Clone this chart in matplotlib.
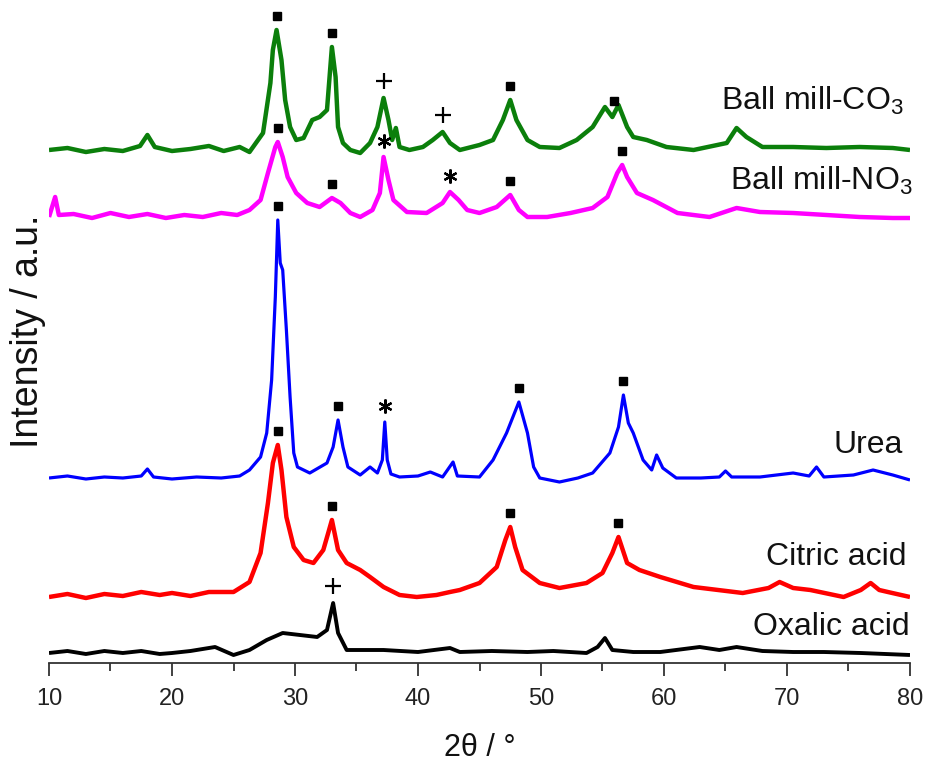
import matplotlib
matplotlib.use("Agg")
import matplotlib.pyplot as plt
import numpy as np

plt.rcParams['font.family'] = ['Liberation Sans', 'DejaVu Sans']
plt.rcParams['mathtext.fontset'] = 'custom'
plt.rcParams['mathtext.rm'] = 'Liberation Sans'

# ---------------- data (2theta in degrees, intensity a.u. above own baseline) ----------------
x_co3 = [10.0, 11.5, 13, 14.5, 16, 17.4, 18.0, 18.6, 20, 21.5, 23, 24.2, 25.5, 26.3, 27.4, 28.0, 28.2, 28.5,
         28.9, 29.2, 29.6, 30.1, 30.7, 31.4, 32.0, 32.6, 33.0, 33.3, 33.5, 33.9, 34.5, 35.3, 36.1, 36.7, 37.2,
         37.6, 37.9, 38.2, 38.5, 39.3, 40.4, 41.2, 42.0, 42.6, 43.4, 45.0, 46.1, 46.9, 47.5, 48.0, 48.9, 49.9,
         51.5, 52.9, 54.2, 55.2, 55.8, 56.3, 57.0, 57.5, 58.6, 60.2, 62.4, 65.1, 65.9, 66.7, 68.0, 70.5, 73.2,
         75.9, 78.6, 80]
y_co3 = [0, 2, -2, 1, -1, 4, 15, 3, -1, 1, 4, -1, 3, -2, 17, 67, 100, 120,
         90, 50, 23, 10, 12, 30, 33, 40, 103, 73, 23, 7, 0, -3, 7, 23, 52,
         30, 10, 22, 3, 0, 3, 10, 18, 7, 0, 5, 10, 30, 50, 30, 10, 3,
         2, 10, 23, 43, 33, 45, 23, 13, 10, 3, 0, 7, 22, 13, 3, 3, 2,
         3, 2, 0]

x_no3 = [10.0, 10.5, 10.8, 12, 13.5, 15, 16.5, 18, 19.5, 21, 22.5, 24, 25.3, 26.3, 27.2, 27.8, 28.4, 28.6,
         29.0, 29.4, 30.1, 31.0, 32.0, 33.0, 33.7, 34.5, 35.3, 36.3, 36.9, 37.2, 37.6, 38.0, 39.1, 40.7, 42.0,
         42.6, 43.3, 44.0, 45.0, 46.4, 47.5, 48.2, 48.9, 50.5, 52.4, 54.2, 55.4, 56.2, 56.6, 57.0, 57.8, 59.1,
         61.1, 63.7, 65.9, 67.8, 70.5, 73.2, 75.9, 78.6, 80]
y_no3 = [0, 20, 2, 3, -1, 4, 0, 3, -1, 2, 0, 4, 2, 7, 17, 44, 70, 75,
         60, 40, 24, 14, 10, 19, 14, 4, 0, 7, 24, 60, 37, 17, 5, 4, 14,
         25, 17, 7, 4, 10, 22, 7, 0, 0, 4, 9, 20, 44, 52, 40, 24, 17,
         4, 0, 9, 5, 4, 2, 0, -1, -1]

x_urea = [10, 11.5, 13, 14.5, 16, 17.5, 18.0, 18.5, 20, 22, 24, 25.5, 26.3, 27.2, 27.7, 28.1, 28.4, 28.6,
          28.8, 29.0, 29.3, 29.6, 29.9, 30.2, 31.2, 32.6, 33.1, 33.5, 33.9, 34.3, 35.3, 36.1, 36.7, 37.1,
          37.3, 37.5, 37.8, 38.5, 40.0, 41.0, 42.0, 42.85, 43.2, 45.0, 46.1, 47.2, 48.2, 48.9, 49.4, 49.9,
          51.5, 53, 54.2, 55.6, 56.3, 56.7, 57.1, 57.5, 58.3, 59.0, 59.4, 59.9, 61.0, 63, 64.5, 65.0, 65.5,
          67.8, 70.5, 71.8, 72.4, 73.0, 75.4, 77.0, 78.6, 80]
y_urea = [0, 2, -1, 1, 0, 2, 9, 1, -1, 1, 0, 2, 8, 21, 45, 98, 181, 258,
          215, 208, 148, 81, 25, 11, 5, 15, 31, 58, 31, 11, 3, 11, 5, 18,
          56, 18, 4, 1, 2, 6, 1, 16, 2, 1, 18, 45, 76, 45, 11, 0,
          -4, 0, 5, 25, 51, 83, 55, 45, 18, 8, 23, 10, 0, 0, 1, 7, 1,
          1, 5, 2, 11, 1, 3, 8, 3, -2]

x_cit = [10, 11.5, 13, 14.5, 16, 17.5, 19, 20, 21.5, 23, 25, 26.3, 27.2, 27.8, 28.2, 28.6, 28.9, 29.3, 29.9,
         30.7, 31.5, 32.3, 32.7, 33.0, 33.5, 34.2, 35.3, 36.1, 37.2, 38.5, 39.9, 41.5, 42.6, 43.4, 45, 46.4,
         47.1, 47.5, 47.9, 48.5, 49.9, 51.5, 53.7, 55.0, 55.8, 56.3, 57.0, 58.0, 59.7, 62.4, 66.4, 68.5, 69.4,
         70.5, 71.9, 74.6, 76.0, 76.8, 77.5, 78.2, 80]
y_cit = [0, 3, -1, 3, 1, 5, 2, 4, 1, 5, 5, 15, 44, 94, 134, 152, 127, 80, 50,
         37, 34, 47, 64, 77, 47, 34, 27, 20, 10, 2, 0, 2, 5, 7, 14, 30,
         57, 70, 50, 27, 14, 9, 14, 24, 44, 60, 34, 27, 20, 10, 4, 9, 15,
         9, 7, 0, 7, 14, 7, 5, 0]

x_oxa = [10, 11.5, 13, 14.5, 16, 17.5, 19, 20, 21.5, 23.5, 25, 26.3, 27.7, 29.0, 30.4, 31.8, 32.6, 33.1, 33.5,
         34.2, 37.2, 40, 42.6, 43.4, 46, 48.9, 51, 53.7, 54.6, 55.2, 55.8, 57.5, 59.7, 62.9, 64.5, 65.9, 68,
         70.5, 73, 76, 80]
y_oxa = [0, 2, -1, 2, 0, 2, -1, 0, 2, 6, -2, 3, 13, 20, 18, 16, 23, 50, 20,
         3, 3, 1, 5, 1, 2, 1, 2, 0, 6, 15, 3, 1, 1, 6, 3, 6, 2,
         1, 1, 0, -2]

series = [
    # name, x, y, vertical offset, color, line width
    ("Ball mill-CO$_\\mathregular{3}$", x_co3, y_co3, 513, "#0b7f0b", 3.2),
    ("Ball mill-NO$_\\mathregular{3}$", x_no3, y_no3, 446, "#ff00ff", 3.2),
    ("Urea", x_urea, y_urea, 185, "#0000ff", 2.3),
    ("Citric acid", x_cit, y_cit, 66, "#ff0000", 3.2),
    ("Oxalic acid", x_oxa, y_oxa, 10, "#000000", 2.8),
]

# peak markers: (2theta, symbol) for each series
peaks_co3 = [(28.5, 's'), (33.0, 's'), (37.2, '+'), (42.0, '+'), (47.5, 's'), (55.9, 's')]
peaks_no3 = [(28.6, 's'), (33.0, 's'), (37.2, '*'), (42.6, '*'), (47.5, 's'), (56.6, 's')]
peaks_urea = [(28.6, 's'), (33.5, 's'), (37.3, '*'), (48.2, 's'), (56.7, 's')]
peaks_cit = [(28.6, 's'), (33.0, 's'), (47.5, 's'), (56.3, 's')]
peaks_oxa = [(33.1, '+')]
peak_sets = [peaks_co3, peaks_no3, peaks_urea, peaks_cit, peaks_oxa]

label_pos = [(79.45, 553), (80.2, 473), (79.45, 210), (79.75, 98), (80.0, 28)]

# ---------------- figure ----------------
fig = plt.figure(figsize=(9.25, 7.65), dpi=100)
ax = fig.add_axes([49 / 925, (765 - 663) / 765, (910 - 49) / 925, 660 / 765])

for (name, xs, ys, off, col, lw), pk, (lx, ly) in zip(series, peak_sets, label_pos):
    xs = np.asarray(xs, float)
    ys = np.asarray(ys, float) + off
    ax.plot(xs, ys, color=col, lw=lw, solid_joinstyle='round', solid_capstyle='butt')
    for px, sym in pk:
        top = np.interp(px, xs, ys)
        if sym == 's':
            ax.plot(px, top + 14, marker='s', ms=5.5, color='black', ls='none')
        elif sym == '+':
            ax.plot(px, top + 17, marker='+', ms=12, mew=1.6, color='black', ls='none')
        else:
            ax.plot(px, top + 16, marker=(6, 2, 0), ms=10, mew=1.6, color='black', ls='none')
    ax.text(lx, ly, name, ha='right', va='baseline', fontsize=23, color='#111111')

ax.set_xlim(10, 80)
ax.set_ylim(0, 660)
for s in ['left', 'right', 'top']:
    ax.spines[s].set_visible(False)
ax.spines['bottom'].set_color('#333333')
ax.spines['bottom'].set_linewidth(1.3)
ax.set_yticks([])
ax.set_xticks(np.arange(10, 81, 10))
ax.set_xticks(np.arange(15, 80, 10), minor=True)
ax.tick_params(axis='x', which='major', length=9, width=1.3, color='#333333', labelsize=17,
               labelcolor='#222222', pad=9)
ax.tick_params(axis='x', which='minor', length=6, width=1.3, color='#333333')
ax.patch.set_alpha(0)

fig.text(480 / 925, (765 - 756) / 765, "2θ / °", ha='center', va='baseline', fontsize=22, color='#111111')
fig.text(28 / 925, (765 - 331) / 765, "Intensity / a.u.", ha='center', va='center', rotation=90,
         fontsize=27, color='#111111')

fig.savefig("out.png", dpi=100, facecolor='white')
